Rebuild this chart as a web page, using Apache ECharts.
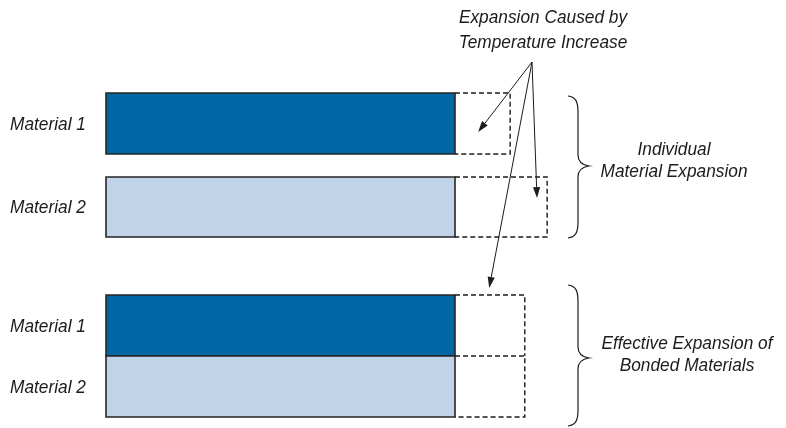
<!DOCTYPE html>
<html><head><meta charset="utf-8">
<script src="https://cdn.jsdelivr.net/npm/echarts@6/dist/echarts.min.js"></script>
<style>html,body{margin:0;padding:0;background:#fff}#c{width:786px;height:428px}</style>
</head><body><div id="c"></div>
<script>
// ---- data ----
const materials = ['Material 1', 'Material 2'];
const baseLength = [100, 100];            // original length (relative units)
const freeExpansion = [15.8, 26.4];       // expansion of each material alone
const bondedExpansion = [20.0, 20.0];     // effective expansion when bonded
const materialColors = ['#0066a5', '#c1d3e8'];
const groupTitles = ['Individual\nMaterial Expansion', 'Effective Expansion of\nBonded Materials'];
const calloutText = 'Expansion Caused by\nTemperature Increase';

// ---- layout (pixels) ----
const rows = [
  {group: 0, m: 0, top: 93,  bottom: 154, ax: 0.42, ay: 0.64},
  {group: 0, m: 1, top: 177, bottom: 237, ax: 0.89, ay: 0.35},
  {group: 1, m: 0, top: 295, bottom: 356, ax: 0.49, ay: -7},
  {group: 1, m: 1, top: 356, bottom: 417}
];
const apex = [532, 62];
const FONT = 'italic 19px "Liberation Sans", Arial, sans-serif';
const SX = 0.91;
const INK = '#1c1c1c';

const seriesData = rows.map(r => [
  baseLength[r.m],
  r.group === 0 ? freeExpansion[r.m] : bondedExpansion[r.m]
]);

function label(text, x, y, align, lh) {
  return {
    type: 'text', x: x, y: y, scaleX: SX,
    style: {text: text, x: 0, y: 0, font: FONT, fill: INK, align: align, verticalAlign: 'middle', lineHeight: lh || 22}
  };
}

function arrow(from, to) {
  const dx = to[0] - from[0], dy = to[1] - from[1];
  const len = Math.sqrt(dx * dx + dy * dy);
  const ux = dx / len, uy = dy / len;
  const hl = 11, hw = 3.6;
  const bx = to[0] - ux * hl, by = to[1] - uy * hl;
  return [
    {type: 'line', shape: {x1: from[0], y1: from[1], x2: bx, y2: by}, style: {stroke: INK, lineWidth: 1}},
    {type: 'polygon', shape: {points: [to, [bx - uy * hw, by + ux * hw], [bx + uy * hw, by - ux * hw]]}, style: {fill: INK}}
  ];
}

function renderItem(params, api) {
  const r = rows[params.dataIndex];
  const base = api.value(0), exp = api.value(1);
  const tl = api.coord([0, r.top]);
  const br = api.coord([base, r.bottom]);
  const ex = api.coord([base + exp, r.top])[0];
  const children = [];
  children.push({
    type: 'rect',
    shape: {x: tl[0], y: tl[1], width: br[0] - tl[0], height: br[1] - tl[1]},
    style: {fill: materialColors[r.m], stroke: '#262626', lineWidth: 1.6}
  });
  let pts;
  if (r.group === 0 || r.m === 1) pts = [[br[0], tl[1]], [ex, tl[1]], [ex, br[1]], [br[0], br[1]]];
  else pts = [[br[0], tl[1]], [ex, tl[1]], [ex, br[1]]];
  children.push({type: 'polyline', shape: {points: pts}, style: {stroke: INK, lineWidth: 1.4, lineDash: [5, 3], fill: null}});
  children.push(label(materials[r.m], 10, (tl[1] + br[1]) / 2 + 1, 'left'));
  if (r.ax !== undefined) {
    const tx = br[0] + (ex - br[0]) * r.ax;
    const ty = r.ay < 0 ? tl[1] + r.ay : tl[1] + (br[1] - tl[1]) * r.ay;
    arrow(apex, [tx, ty]).forEach(c => children.push(c));
  }
  return {type: 'group', children};
}

function bracePath(x, top, tip, bottom) {
  const xi = x + 10, xt = x + 21;
  return `M${x},${top} C${x + 8},${top + 1} ${xi},${top + 6} ${xi},${top + 16} ` +
    `L${xi},${tip - 11} C${xi},${tip - 4} ${xi + 4},${tip - 1} ${xt},${tip} ` +
    `C${xi + 4},${tip + 1} ${xi},${tip + 4} ${xi},${tip + 11} ` +
    `L${xi},${bottom - 16} C${xi},${bottom - 6} ${x + 8},${bottom - 1} ${x},${bottom}`;
}

function renderAnnotations() {
  return {
    type: 'group',
    children: [
      label(calloutText, 543, 30, 'center', 25),
      label(groupTitles[0], 674, 161, 'center', 22),
      label(groupTitles[1], 687, 355, 'center', 22),
      {type: 'path', shape: {pathData: bracePath(568, 96, 166, 238)}, style: {stroke: INK, lineWidth: 1.2, fill: null}},
      {type: 'path', shape: {pathData: bracePath(568, 285, 358, 426)}, style: {stroke: INK, lineWidth: 1.2, fill: null}}
    ]
  };
}

const chart = echarts.init(document.getElementById('c'), null, {renderer: 'canvas'});
chart.setOption({
  animation: false,
  backgroundColor: '#fff',
  grid: {left: 106, width: 349, top: 0, height: 428},
  xAxis: {type: 'value', min: 0, max: 100, show: false},
  yAxis: {type: 'value', min: 0, max: 428, inverse: true, show: false},
  series: [
    {type: 'custom', clip: false, renderItem: renderItem, data: seriesData},
    {type: 'custom', clip: false, renderItem: renderAnnotations, data: [[0, 0]]}
  ]
});
</script>
</body></html>
